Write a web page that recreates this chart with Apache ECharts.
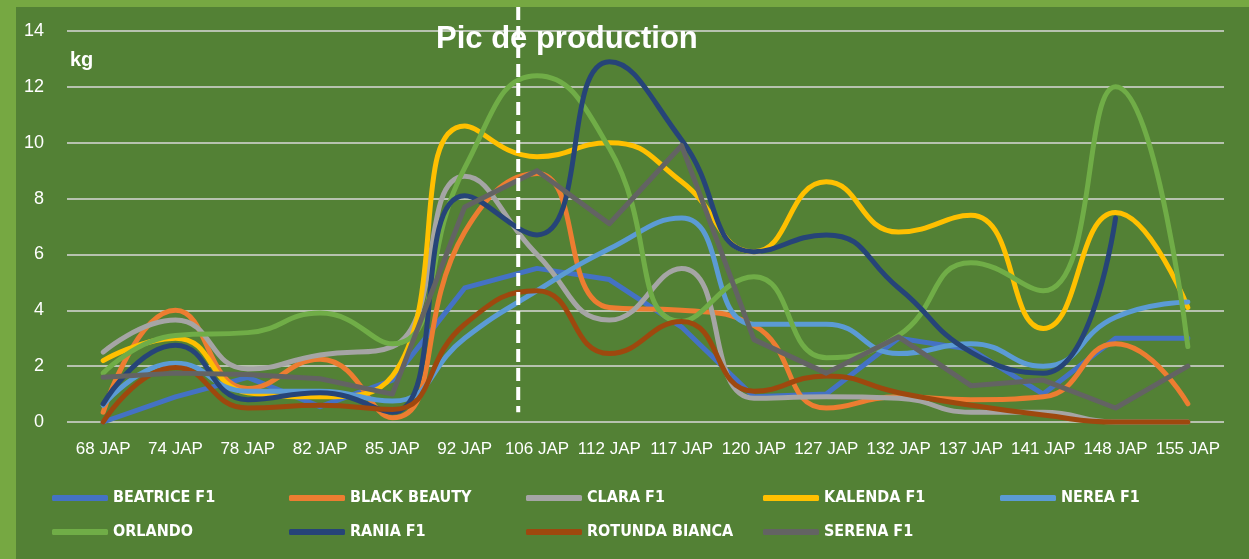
<!DOCTYPE html>
<html>
<head>
<meta charset="utf-8">
<script src="https://cdn.jsdelivr.net/npm/echarts@6/dist/echarts.min.js"></script>
<style>
  html, body { margin: 0; padding: 0; }
  #chart { width: 1249px; height: 559px; }
</style>
</head>
<body>
<div id="chart"></div>
<script>
var categories = ['68 JAP', '74 JAP', '78 JAP', '82 JAP', '85 JAP', '92 JAP', '106 JAP', '112 JAP',
    '117 JAP', '120 JAP', '127 JAP', '132 JAP', '137 JAP', '141 JAP', '148 JAP', '155 JAP'];

var beatrice = [0, 0.9, 1.6, 0.55, 1.5, 4.8, 5.5, 5.1, 3.4, 0.9, 1.0, 3.0, 2.6, 1.0, 3.0, 3.0];
var blackBeauty = [0.35, 4.0, 1.2, 2.25, 0.15, 6.8, 8.9, 4.1, 4.0, 3.45, 0.5, 0.9, 0.8, 0.9, 2.8, 0.65];
var clara = [2.5, 3.65, 1.9, 2.4, 2.7, 8.8, 6.0, 3.65, 5.5, 0.85, 0.9, 0.85, 0.35, 0.35, 0, 0];
var kalenda = [2.2, 3.0, 1.05, 0.9, 1.65, 10.6, 9.5, 10.0, 8.6, 6.1, 8.6, 6.8, 7.4, 3.35, 7.5, 4.1];
var nerea = [0.6, 2.1, 1.1, 1.1, 0.75, 3.0, 4.7, 6.2, 7.3, 3.5, 3.5, 2.45, 2.8, 2.0, 3.75, 4.3];
var orlando = [1.75, 3.1, 3.2, 3.9, 2.8, 9.1, 12.4, 9.8, 3.6, 5.2, 2.3, 3.1, 5.7, 4.7, 12.0, 2.7];
var rania = [0.65, 2.75, 0.8, 1.05, 0.35, 8.1, 6.7, 12.9, 10.1, 6.1, 6.7, 4.8, 2.5, 1.75, 7.3, null];
var rotunda = [0, 1.95, 0.5, 0.6, 0.45, 3.5, 4.7, 2.45, 3.6, 1.1, 1.65, 1.05, 0.6, 0.25, 0, 0];
var serena = [1.6, 1.75, 1.7, 1.55, 1.0, 7.7, 9.0, 7.1, 9.9, 2.95, 1.75, 3.05, 1.3, 1.5, 0.5, 2.0];

var yTicks = { min: 0, max: 14, interval: 2 };
// dashed "peak" marker sits 74% of the way from 92 JAP to 106 JAP
var peakFrom = 5, peakShare = 0.74, peakBottom = 0.35;

var chartDom = document.getElementById('chart');
var myChart = echarts.init(chartDom);

function line(name, data, color, smooth) {
    return {
        name: name,
        type: 'line',
        data: data,
        smooth: smooth,
        symbol: 'none',
        connectNulls: false,
        clip: false,
        lineStyle: { width: 5, color: color, cap: 'round', join: 'round' },
        itemStyle: { color: color }
    };
}

var series = [
    line('BEATRICE F1', beatrice, '#4472C4', false),
    line('BLACK BEAUTY', blackBeauty, '#ED7D31', true),
    line('CLARA F1', clara, '#A5A5A5', true),
    line('KALENDA F1', kalenda, '#FFC000', true),
    line('NEREA F1', nerea, '#5B9BD5', true),
    line('ORLANDO', orlando, '#70AD47', true),
    line('RANIA F1', rania, '#264478', true),
    line('ROTUNDA BIANCA', rotunda, '#9E480E', true),
    line('SERENA F1', serena, '#636363', false)
];

var option = {
    backgroundColor: '#538135',
    animation: false,
    graphic: [
        { id: 'topStrip', type: 'rect', left: 0, top: 0, shape: { width: 1249, height: 7 }, style: { fill: '#76A842' } },
        { id: 'leftStrip', type: 'rect', left: 0, top: 0, shape: { width: 16, height: 559 }, style: { fill: '#76A842' } }
    ],
    title: {
        text: 'Pic de production',
        left: 431,
        top: 19,
        textStyle: {
            color: '#ffffff',
            fontSize: 31,
            fontWeight: 'bold',
            fontFamily: 'Liberation Sans, Arial, sans-serif'
        }
    },
    legend: {
        left: 52,
        top: 486,
        width: 1190,
        padding: 0,
        itemWidth: 56,
        itemHeight: 6,
        itemGap: 10,
        icon: 'roundRect',
        textStyle: {
            color: '#ffffff',
            fontSize: 16,
            fontWeight: 'bold',
            fontFamily: 'DejaVu Sans Condensed, Liberation Sans, sans-serif',
            width: 166,
            lineHeight: 24
        }
    },
    grid: {
        left: 67,
        right: 25,
        top: 31,
        bottom: 137
    },
    xAxis: {
        type: 'category',
        data: categories,
        boundaryGap: true,
        axisLine: { show: false },
        axisTick: { show: false },
        axisLabel: {
            color: '#ffffff',
            fontSize: 17,
            margin: 19,
            interval: 0,
            fontFamily: 'Liberation Sans, Arial, sans-serif'
        }
    },
    yAxis: {
        type: 'value',
        min: yTicks.min,
        max: yTicks.max,
        interval: yTicks.interval,
        name: 'kg',
        nameLocation: 'end',
        nameGap: -39,
        nameTextStyle: {
            color: '#ffffff',
            fontSize: 20,
            fontWeight: 'bold',
            align: 'left',
            verticalAlign: 'bottom',
            padding: [0, 0, 0, 3],
            fontFamily: 'Liberation Sans, Arial, sans-serif'
        },
        axisLine: { show: false },
        axisTick: { show: false },
        axisLabel: {
            color: '#ffffff',
            fontSize: 18,
            margin: 23,
            fontFamily: 'Liberation Sans, Arial, sans-serif'
        },
        splitLine: { lineStyle: { color: '#D9D9D9', width: 1.5 } }
    },
    series: series
};

option && myChart.setOption(option);

// place the dashed marker through the axes, it runs up to the frame edge
var xa = myChart.convertToPixel({ xAxisIndex: 0 }, categories[peakFrom]);
var xb = myChart.convertToPixel({ xAxisIndex: 0 }, categories[peakFrom + 1]);
var markX = xa + (xb - xa) * peakShare;
var markBottom = myChart.convertToPixel({ yAxisIndex: 0 }, peakBottom);

myChart.setOption({
    graphic: [{
        id: 'peakLine',
        type: 'line',
        z: 50,
        shape: { x1: markX, y1: 7, x2: markX, y2: markBottom },
        style: { stroke: '#ffffff', lineWidth: 4, lineDash: [13, 6] }
    }]
});
</script>
</body>
</html>
